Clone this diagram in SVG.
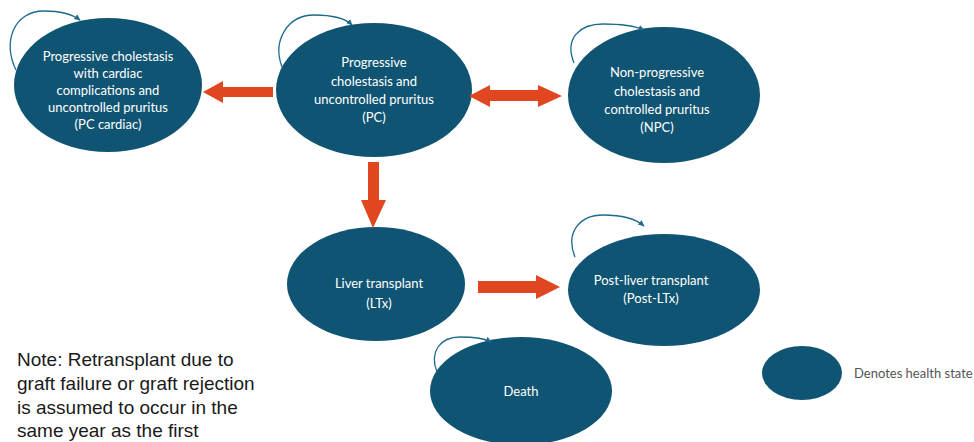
<svg xmlns="http://www.w3.org/2000/svg" width="974" height="442" viewBox="0 0 974 442">
<defs>
<style>
.st{fill:#0f5472}
.lbl{font-family:Lato,"Open Sans","Liberation Sans",sans-serif;font-size:13px;fill:#ffffff;text-anchor:middle}
.loop{fill:none;stroke:#1d6a8c;stroke-width:1.3}
.big{fill:#e0461f}
.note{font-family:"Liberation Sans",Arial,sans-serif;font-size:19px;fill:#1a1a1a}
.leg{font-family:Lato,"Open Sans","Liberation Sans",sans-serif;font-size:13px;fill:#555555}
</style>
<marker id="ah" viewBox="0 0 10 10" refX="8" refY="5" markerWidth="7" markerHeight="7" orient="auto" markerUnits="userSpaceOnUse">
<path d="M0,1 L9,5 L0,9 z" fill="#1d6a8c"/>
</marker>
</defs>
<rect width="974" height="442" fill="#ffffff"/>

<g id="pc-cardiac">
<ellipse class="st" cx="108" cy="85" rx="94" ry="67"/>
<text class="lbl" x="108" y="61">Progressive cholestasis</text>
<text class="lbl" x="108" y="78">with cardiac</text>
<text class="lbl" x="108" y="95">complications and</text>
<text class="lbl" x="108" y="112">uncontrolled pruritus</text>
<text class="lbl" x="108" y="129">(PC cardiac)</text>
</g>

<g id="pc">
<ellipse class="st" cx="374" cy="90" rx="98" ry="67"/>
<text class="lbl" x="374" y="67">Progressive</text>
<text class="lbl" x="374" y="86">cholestasis and</text>
<text class="lbl" x="374" y="104">uncontrolled pruritus</text>
<text class="lbl" x="374" y="122">(PC)</text>
</g>

<g id="npc">
<ellipse class="st" cx="664" cy="95" rx="96" ry="68"/>
<text class="lbl" x="657" y="77">Non-progressive</text>
<text class="lbl" x="657" y="96">cholestasis and</text>
<text class="lbl" x="657" y="114">controlled pruritus</text>
<text class="lbl" x="657" y="132">(NPC)</text>
</g>

<g id="ltx">
<ellipse class="st" cx="376" cy="284" rx="89" ry="57"/>
<text class="lbl" x="379" y="288">Liver transplant</text>
<text class="lbl" x="379" y="308">(LTx)</text>
</g>

<g id="post-ltx">
<ellipse class="st" cx="664" cy="290" rx="96" ry="56"/>
<text class="lbl" x="651" y="285">Post-liver transplant</text>
<text class="lbl" x="651" y="303">(Post-LTx)</text>
</g>

<g id="death">
<ellipse class="st" cx="521" cy="391" rx="91" ry="54"/>
<text class="lbl" x="521" y="396">Death</text>
</g>

<g id="legend">
<ellipse class="st" cx="802" cy="373" rx="40" ry="27"/>
<text class="leg" x="854" y="378">Denotes health state</text>
</g>

<g id="note">
<text class="note" x="17" y="366">Note: Retransplant due to</text>
<text class="note" x="17" y="390">graft failure or graft rejection</text>
<text class="note" x="17" y="414">is assumed to occur in the</text>
<text class="note" x="17" y="437">same year as the first</text>
</g>

<g id="connectors">
<path class="loop" marker-end="url(#ah)" d="M16,70 C2,42 14,11 44,11 C60,11 72,14 80,20"/>
<path class="loop" marker-end="url(#ah)" d="M282,67 C272,40 288,15 314,15 C332,15 345,18 352,25"/>
<path class="loop" marker-end="url(#ah)" d="M574,63 C564,38 580,24 603,24 C621,24 635,26 644,30"/>
<path class="loop" marker-end="url(#ah)" d="M575,257 C565,232 580,215 603,215 C621,215 636,219 644,226"/>
<path class="loop" marker-end="url(#ah)" d="M437,372 C429,352 440,337 460,337 C474,337 484,338 491,342"/>
<polygon class="big" points="273,87 223,87 223,81 203,92 223,103 223,97 273,97"/>
<polygon class="big" points="469,96 490,85 490,90 538,90 538,85 562,96 538,107 538,101 490,101 490,107"/>
<polygon class="big" points="368,162 379,162 379,200 386,200 373,228 361,200 368,200"/>
<polygon class="big" points="478,281 536,281 536,275 560,287 536,299 536,293 478,293"/>
</g>
</svg>
